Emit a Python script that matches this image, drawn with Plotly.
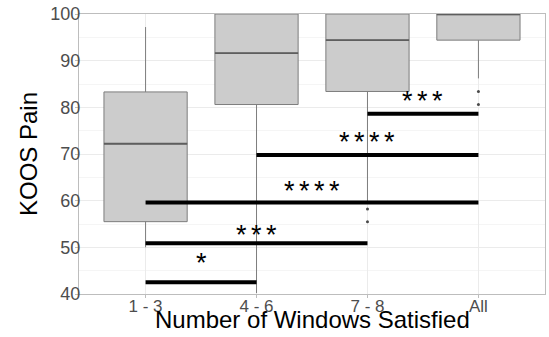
import plotly.graph_objects as go

# Group labels and five-number summaries of KOOS Pain per group
categories = ["1 - 3", "4 - 6", "7 - 8", "All"]
lower_whisker = [50.0, 40.2, 59.3, 86.2]
q1 = [55.5, 80.6, 83.4, 94.4]
median = [72.2, 91.6, 94.4, 100.0]
q3 = [83.3, 100.0, 100.0, 100.0]
upper_whisker = [97.2, 100.0, 100.0, 100.0]

# Outlying observations (group, value)
outlier_group = ["7 - 8", "7 - 8", "All", "All"]
outlier_value = [58.2, 55.5, 83.4, 80.6]

# Pairwise comparisons: groups, bracket height, significance label, label height
comp_from = ["1 - 3", "1 - 3", "1 - 3", "4 - 6", "7 - 8"]
comp_to = ["4 - 6", "7 - 8", "All", "All", "All"]
comp_y = [42.5, 50.9, 59.6, 69.8, 78.6]
comp_label = ["*", "***", "****", "****", "***"]
label_y = [47.5, 53.6, 63.0, 73.4, 82.3]

pos = {c: i for i, c in enumerate(categories)}
xs = [pos[c] for c in categories]
BOX_W = 0.75
FONT = "Liberation Sans, Arial, sans-serif"
BOX_LINE = "#7d7d7d"

fig = go.Figure()

fig.add_trace(go.Box(
    x=xs, q1=q1, median=median, q3=q3,
    lowerfence=lower_whisker, upperfence=upper_whisker,
    width=BOX_W, whiskerwidth=0,
    fillcolor="#cccccc",
    line=dict(color=BOX_LINE, width=1),
    boxpoints=False, showlegend=False, hoverinfo="skip",
))

# Thicker median lines
for i, m in zip(xs, median):
    fig.add_trace(go.Scatter(
        x=[i - BOX_W / 2, i + BOX_W / 2], y=[m, m], mode="lines",
        line=dict(color="#5e5e5e", width=1.8),
        showlegend=False, hoverinfo="skip",
    ))

fig.add_trace(go.Scatter(
    x=[pos[g] for g in outlier_group], y=outlier_value, mode="markers",
    marker=dict(color="#4a4a4a", size=3),
    showlegend=False, hoverinfo="skip",
))

# Significance brackets
sep = "\u2006"
for a, b, y, lab, ly in zip(comp_from, comp_to, comp_y, comp_label, label_y):
    fig.add_trace(go.Scatter(
        x=[pos[a], pos[b]], y=[y, y], mode="lines",
        line=dict(color="black", width=4),
        showlegend=False, hoverinfo="skip",
    ))
    fig.add_annotation(
        x=(pos[a] + pos[b]) / 2, y=ly, text=sep.join(lab),
        showarrow=False, xanchor="center", yanchor="middle", yshift=-4,
        font=dict(family=FONT, size=27, color="black"),
    )

# Axis titles
fig.add_annotation(
    text="Number of Windows Satisfied", xref="paper", yref="paper",
    x=0.5, y=0, yshift=-25, xanchor="center", yanchor="middle",
    showarrow=False, font=dict(family=FONT, size=24, color="black"),
)
fig.add_annotation(
    text="KOOS Pain", xref="paper", yref="paper", textangle=-90,
    x=0, y=0.5, xshift=-51, xanchor="center", yanchor="middle",
    showarrow=False, font=dict(family=FONT, size=24, color="black"),
)

fig.update_layout(
    width=549, height=337,
    margin=dict(l=79, r=4, t=14, b=43),
    paper_bgcolor="white", plot_bgcolor="white",
    font=dict(family=FONT),
    xaxis=dict(
        range=[-0.6, 3.6], tickvals=xs, ticktext=categories,
        automargin=False,
        showgrid=True, gridcolor="#ebebeb", gridwidth=1,
        zeroline=False,
        showline=True, mirror=True, linecolor="#bdbdbd", linewidth=1,
        ticks="outside", ticklen=3, tickcolor="#bdbdbd",
        ticklabelstandoff=-6,
        tickfont=dict(family=FONT, size=17, color="#4d4d4d"),
    ),
    yaxis=dict(
        range=[40, 100], tickvals=[40, 50, 60, 70, 80, 90, 100],
        automargin=False,
        showgrid=True, gridcolor="#ebebeb", gridwidth=1,
        minor=dict(dtick=5, tick0=45, showgrid=True, gridcolor="#f5f5f5"),
        zeroline=False,
        showline=True, mirror=True, linecolor="#bdbdbd", linewidth=1,
        ticks="outside", ticklen=3, tickcolor="#bdbdbd",
        ticklabelstandoff=-9,
        tickfont=dict(family=FONT, size=18, color="#4d4d4d"),
    ),
)

fig.write_html("out.html")
